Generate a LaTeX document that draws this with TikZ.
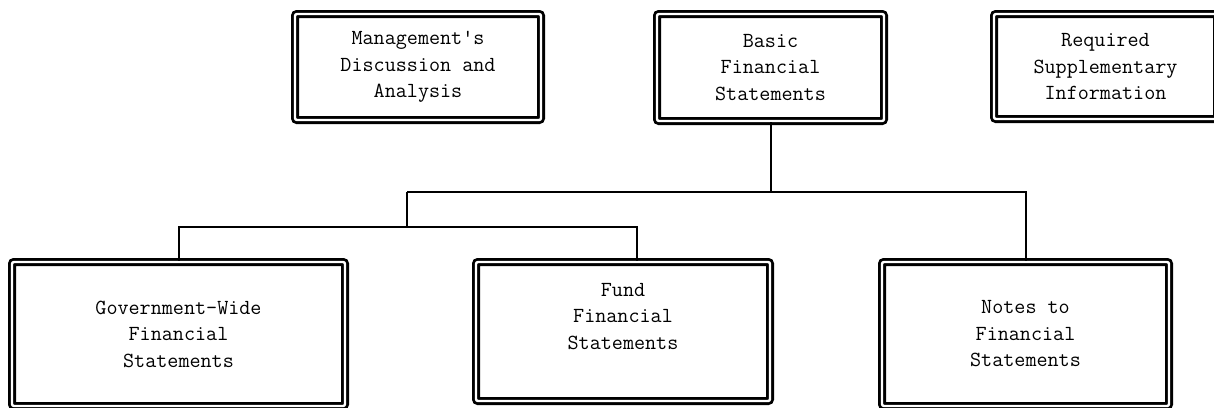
\documentclass[tikz,border=0pt]{standalone}
\begin{document}
\begin{tikzpicture}[x=1pt,y=-1pt,
  docbox/.style={draw, double, line width=2.8pt, double distance=2.4pt,
    rounded corners=2pt, align=center, inner sep=0pt,
    font=\ttfamily\fontsize{21.5}{26.5}\selectfont},
  link/.style={line width=2pt}]
  \useasboundingbox (0,0) rectangle (1214,407);

  % top row
  \node (mda) [docbox, minimum width=246pt, minimum height=106pt] at (418,67)
    {Management\textquotesingle s\\Discussion and\\Analysis};
  \node (bfs) [docbox, minimum width=227pt, minimum height=107pt] at (770.5,67.5)
    {Basic\\Financial\\Statements};
  \node (rsi) [docbox, minimum width=223pt, minimum height=105pt] at (1105.5,66.5)
    {Required\\Supplementary\\Information};

  % bottom row
  \node (gov) [docbox, minimum width=333pt, minimum height=144pt] at (178.5,334)
    {Government-Wide\\Financial\\Statements};
  \node (fund) [docbox, minimum width=294pt, minimum height=139pt] at (623,331.5)
    {Fund\\Financial\\Statements\\[4pt]\mbox{}};
  \node (notes) [docbox, minimum width=287pt, minimum height=144pt] at (1025.5,334)
    {Notes to\\Financial\\Statements};

  % connectors
  \coordinate (upper) at (407,192);
  \coordinate (lower) at (407,227);
  \coordinate (fundtop) at ([xshift=14pt]fund.north);
  \draw[link] (bfs.south) -- (bfs.south |- upper);
  \draw[link] (upper) -- (upper -| notes.north) -- (notes.north);
  \draw[link] (upper) -- (lower);
  \draw[link] (gov.north) -- (gov.north |- lower) -- (fundtop |- lower) -- (fundtop);
\end{tikzpicture}
\end{document}
